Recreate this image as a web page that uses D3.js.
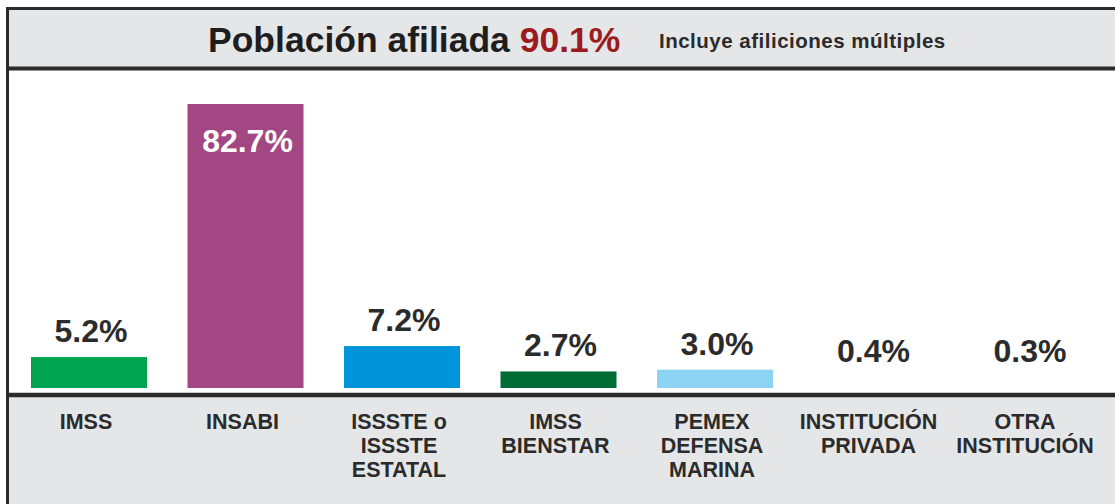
<!DOCTYPE html>
<html>
<head>
<meta charset="utf-8">
<script src="https://cdn.jsdelivr.net/npm/d3@7"></script>
<style>
  html, body { margin: 0; padding: 0; background: #fff; }
  svg { display: block; font-family: "Liberation Sans", Arial, sans-serif; }
</style>
</head>
<body>
<svg id="chart" width="1115" height="504"></svg>
<script>
// ---- data ----
const categories = ["IMSS", "INSABI", "ISSSTE o ISSSTE ESTATAL", "IMSS BIENSTAR", "PEMEX DEFENSA MARINA", "INSTITUCIÓN PRIVADA", "OTRA INSTITUCIÓN"];
const categoryLines = [
  ["IMSS"],
  ["INSABI"],
  ["ISSSTE o", "ISSSTE", "ESTATAL"],
  ["IMSS", "BIENSTAR"],
  ["PEMEX", "DEFENSA", "MARINA"],
  ["INSTITUCIÓN", "PRIVADA"],
  ["OTRA", "INSTITUCIÓN"]
];
const values = [5.2, 82.7, 7.2, 2.7, 3.0, 0.4, 0.3];
const valueLabels = ["5.2%", "82.7%", "7.2%", "2.7%", "3.0%", "0.4%", "0.3%"];
const barColors = ["#00a450", "#a34684", "#0095da", "#006c36", "#8dd4f3", "none", "none"];
const titleText = "Población afiliada ";
const titleValue = "90.1%";
const subtitleText = "Incluye afiliciones múltiples";

// ---- layout ----
const W = 1115, H = 504;
const baseline = 388;
const svg = d3.select("#chart");
const dark = "#2b2b2b";
const gray = "#e5e6e8";

// header
svg.append("rect").attr("x", 7).attr("y", 9).attr("width", W).attr("height", 59).attr("fill", gray);
svg.append("line").attr("x1", 6).attr("x2", W).attr("y1", 8.5).attr("y2", 8.5).attr("stroke", dark).attr("stroke-width", 3);
svg.append("line").attr("x1", 6).attr("x2", W).attr("y1", 68.5).attr("y2", 68.5).attr("stroke", dark).attr("stroke-width", 4);

// bottom category area
svg.append("rect").attr("x", 7).attr("y", 396).attr("width", W).attr("height", H - 396).attr("fill", gray);
svg.append("line").attr("x1", 6).attr("x2", W).attr("y1", 395).attr("y2", 395).attr("stroke", dark).attr("stroke-width", 4.5);

// left border
svg.append("line").attr("x1", 7.5).attr("x2", 7.5).attr("y1", 7).attr("y2", H).attr("stroke", dark).attr("stroke-width", 3);

// title
const title = svg.append("text").attr("x", 208).attr("y", 52)
  .attr("font-size", 35.5).attr("font-weight", "bold").attr("fill", "#1e1e1e");
title.append("tspan").text(titleText);
title.append("tspan").attr("fill", "#9b1b20").text(titleValue);
svg.append("text").attr("x", 659).attr("y", 48)
  .attr("font-size", 20.5).attr("font-weight", "bold").attr("fill", "#2b2b2b")
  .attr("letter-spacing", 0.5)
  .text(subtitleText);

// scales
const x = d3.scalePoint().domain(categories).range([89, 1028]);
const barW = 116;
const y = d3.scaleSymlog().constant(40).domain([0, 82.7]).range([baseline, 104]);

const data = categories.map((c, i) => ({ c, v: values[i], label: valueLabels[i], color: barColors[i], lines: categoryLines[i] }));

// bars
svg.append("g").selectAll("rect").data(data).join("rect")
  .attr("x", d => x(d.c) - barW / 2)
  .attr("y", d => y(d.v))
  .attr("width", barW)
  .attr("height", d => baseline - y(d.v))
  .attr("fill", d => d.color);

// value labels
svg.append("g").selectAll("text").data(data).join("text")
  .attr("x", d => x(d.c) + 2)
  .attr("y", d => {
    const top = y(d.v);
    return (baseline - top) > 100 ? top + 48 : Math.min(top - 15, 362);
  })
  .attr("text-anchor", "middle")
  .attr("font-size", 32)
  .attr("font-weight", "bold")
  .attr("fill", d => (baseline - y(d.v)) > 100 ? "#ffffff" : "#2b2b2b")
  .text(d => d.label);

// category labels
const cat = svg.append("g").selectAll("text").data(data).join("text")
  .attr("x", d => x(d.c) - 3)
  .attr("y", 429)
  .attr("text-anchor", "middle")
  .attr("font-size", 21.5)
  .attr("font-weight", "bold")
  .attr("fill", "#2b2b2b");
cat.selectAll("tspan").data(d => d.lines).join("tspan")
  .attr("x", function () { return d3.select(this.parentNode).attr("x"); })
  .attr("dy", (d, i) => i === 0 ? 0 : 24)
  .text(d => d);
</script>
</body>
</html>
